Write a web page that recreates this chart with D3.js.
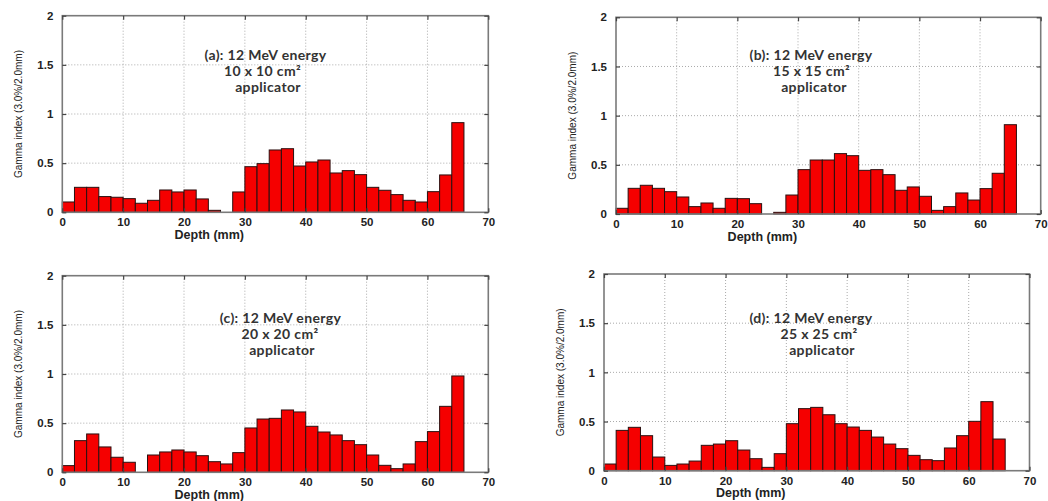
<!DOCTYPE html>
<html>
<head>
<meta charset="utf-8">
<script src="https://cdn.jsdelivr.net/npm/d3@7"></script>
<style>
  html, body { margin: 0; padding: 0; background: #fff; }
  svg { display: block; }
</style>
</head>
<body>
<svg id="chart" width="1048" height="501"></svg>
<script>
// Depth bins (mm), each bin is 2 mm wide, starting at these depths
const depthBins = [0, 2, 4, 6, 8, 10, 12, 14, 16, 18, 20, 22, 24, 26, 28, 30,
                   32, 34, 36, 38, 40, 42, 44, 46, 48, 50, 52, 54, 56, 58, 60, 62, 64];
const binWidth = 2;

// Gamma index (3.0%/2.0mm) per depth bin for each applicator size
const gamma10x10 = [0.105, 0.254, 0.254, 0.160, 0.153, 0.139, 0.092, 0.122, 0.227, 0.207, 0.227,
                    0.136, 0.020, 0, 0.207, 0.464, 0.495, 0.634, 0.647, 0.471, 0.512, 0.532,
                    0.400, 0.424, 0.383, 0.254, 0.224, 0.180, 0.122, 0.105, 0.210, 0.380, 0.912];
const gamma15x15 = [0.058, 0.261, 0.292, 0.261, 0.227, 0.173, 0.075, 0.112, 0.058, 0.159, 0.156,
                    0.105, 0, 0.017, 0.193, 0.451, 0.549, 0.549, 0.614, 0.593, 0.444, 0.451,
                    0.400, 0.241, 0.275, 0.180, 0.037, 0.075, 0.214, 0.142, 0.258, 0.414, 0.908];
const gamma20x20 = [0.068, 0.322, 0.390, 0.258, 0.153, 0.102, 0, 0.176, 0.207, 0.227, 0.207,
                    0.169, 0.108, 0.085, 0.200, 0.451, 0.542, 0.549, 0.634, 0.614, 0.468, 0.410,
                    0.380, 0.322, 0.281, 0.176, 0.071, 0.037, 0.085, 0.312, 0.414, 0.671, 0.980];
const gamma25x25 = [0.068, 0.410, 0.441, 0.356, 0.139, 0.054, 0.068, 0.098, 0.258, 0.271, 0.305,
                    0.210, 0.122, 0.034, 0.173, 0.478, 0.631, 0.644, 0.569, 0.478, 0.444, 0.410,
                    0.342, 0.271, 0.224, 0.156, 0.112, 0.102, 0.231, 0.356, 0.502, 0.702, 0.322];

// Axis ticks
const xTicks = [0, 10, 20, 30, 40, 50, 60, 70];
const yTicks = [0, 0.5, 1, 1.5, 2];

// Panel annotations
const panelTitles = ["(a): 12 MeV energy", "(b): 12 MeV energy", "(c): 12 MeV energy", "(d): 12 MeV energy"];
const fieldSizes = ["10 x 10 cm\u00B2", "15 x 15 cm\u00B2", "20 x 20 cm\u00B2", "25 x 25 cm\u00B2"];
const applicatorLabel = "applicator";
const xAxisTitle = "Depth (mm)";
const yAxisTitle = "Gamma index (3.0%/2.0mm)";

const seriesList = [gamma10x10, gamma15x15, gamma20x20, gamma25x25];

// Plot-area frames for the four panels (pixels); lx = centres of the three annotation lines
const frames = [
  { left: 62.3, right: 488.3,  top: 15.7,  bottom: 212.3, lx: [265.5, 262.5, 268], ty: 54.5 },
  { left: 616,  right: 1040.7, top: 17.3,  bottom: 214,   lx: [811, 811.5, 814],   ty: 54.5 },
  { left: 62.3, right: 488.3,  top: 275.7, bottom: 472.3, lx: [280.5, 280, 282],   ty: 317.5 },
  { left: 604,  right: 1029.5, top: 274,   bottom: 470.7, lx: [811, 819, 822],     ty: 317.5 }
];

const svg = d3.select("#chart");
const fmt = d => d3.format("~g")(d);

frames.forEach((f, i) => {
  const values = seriesList[i];
  const x = d3.scaleLinear().domain([0, 70]).range([f.left, f.right]);
  const y = d3.scaleLinear().domain([0, 2]).range([f.bottom, f.top]);
  const g = svg.append("g");

  // dotted grid
  g.append("g").selectAll("line").data(xTicks.slice(1, -1)).join("line")
    .attr("x1", d => x(d)).attr("x2", d => x(d))
    .attr("y1", f.top).attr("y2", f.bottom)
    .attr("stroke", "#aaaaaa").attr("stroke-width", 1).attr("stroke-dasharray", "1,2");
  g.append("g").selectAll("line").data(yTicks.slice(1, -1)).join("line")
    .attr("x1", f.left).attr("x2", f.right)
    .attr("y1", d => y(d)).attr("y2", d => y(d))
    .attr("stroke", "#aaaaaa").attr("stroke-width", 1).attr("stroke-dasharray", "1,2");

  // bars
  const bars = depthBins.map((d, k) => ({ d, v: values[k] })).filter(b => b.v > 0);
  g.append("g").selectAll("rect").data(bars).join("rect")
    .attr("x", b => x(b.d))
    .attr("width", b => x(b.d + binWidth) - x(b.d))
    .attr("y", b => y(b.v))
    .attr("height", b => y(0) - y(b.v))
    .attr("fill", "#f50000")
    .attr("stroke", "#2a1010").attr("stroke-width", 1);

  // frame
  g.append("rect")
    .attr("x", f.left).attr("y", f.top)
    .attr("width", f.right - f.left).attr("height", f.bottom - f.top)
    .attr("fill", "none").attr("stroke", "#7a7a7a").attr("stroke-width", 1.6);

  // axes with inward ticks on all sides
  const axisStyle = sel => {
    sel.select(".domain").remove();
    sel.selectAll(".tick line").attr("stroke", "#444").attr("stroke-width", 1.2);
    sel.selectAll(".tick text")
      .attr("font-family", "'Liberation Sans', Arial, sans-serif")
      .attr("font-weight", "bold").attr("font-size", "11.5px").attr("fill", "#222");
  };
  g.append("g").attr("transform", `translate(0,${f.bottom})`)
    .call(d3.axisBottom(x).tickValues(xTicks).tickFormat(fmt).tickSizeInner(-4).tickPadding(6))
    .call(axisStyle);
  g.append("g").attr("transform", `translate(0,${f.top})`)
    .call(d3.axisTop(x).tickValues(xTicks).tickFormat("").tickSizeInner(-4))
    .call(axisStyle);
  g.append("g").attr("transform", `translate(${f.left},0)`)
    .call(d3.axisLeft(y).tickValues(yTicks).tickFormat(fmt).tickSizeInner(-4).tickPadding(9))
    .call(axisStyle);
  g.append("g").attr("transform", `translate(${f.right},0)`)
    .call(d3.axisRight(y).tickValues(yTicks).tickFormat("").tickSizeInner(-4))
    .call(axisStyle);

  // axis titles
  g.append("text")
    .attr("x", (f.left + f.right) / 2 - 66).attr("y", f.bottom + 26.5)
    .attr("text-anchor", "middle")
    .attr("font-family", "'Liberation Sans', Arial, sans-serif")
    .attr("font-weight", "bold").attr("font-size", "12.5px").attr("fill", "#222")
    .text(xAxisTitle);
  g.append("text")
    .attr("transform", `translate(${f.left - 40},${(f.top + f.bottom) / 2}) rotate(-90)`)
    .attr("text-anchor", "middle")
    .attr("font-family", "'Liberation Sans', Arial, sans-serif")
    .attr("font-size", "10.5px").attr("fill", "#222")
    .attr("textLength", 128).attr("lengthAdjust", "spacingAndGlyphs")
    .text(yAxisTitle);

  // annotation block
  const ann = g.append("text")
    .attr("text-anchor", "middle")
    .attr("font-family", "Lato, 'Open Sans', sans-serif")
    .attr("font-weight", "bold").attr("font-size", "14px")
    .attr("letter-spacing", "0.35px").attr("fill", "#333");
  [panelTitles[i], fieldSizes[i], applicatorLabel].forEach((t, k) => {
    ann.append("tspan").attr("x", f.lx[k]).attr("y", f.ty + 5 + k * 16).text(t);
  });
});
</script>
</body>
</html>
